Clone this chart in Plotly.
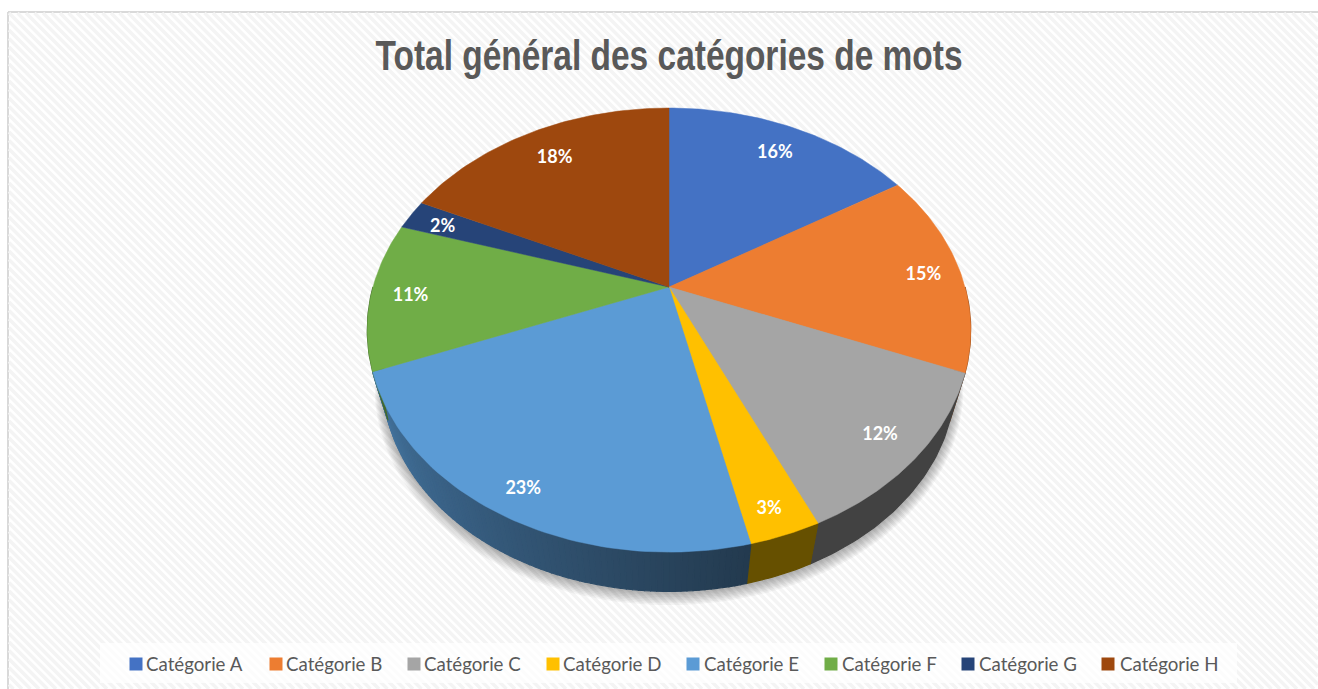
"""Total général des catégories de mots - pie with a perspective tilt and a side wall."""

import numpy as np
import plotly.graph_objects as go

categories = ["Catégorie A", "Catégorie B", "Catégorie C", "Catégorie D",
              "Catégorie E", "Catégorie F", "Catégorie G", "Catégorie H"]
values = [16.2, 14.9, 12.1, 3.2, 22.6, 10.8, 2.2, 18.0]
colors = ["#4472C4", "#ED7D31", "#A5A5A5", "#FFC000",
          "#5B9BD5", "#70AD47", "#264478", "#9E480E"]
# wall colours: (right end, left end) of each slice's side
wall_colors = [("#29457a", "#29457a"), ("#8e4b1d", "#8e4b1d"), ("#424242", "#424242"), ("#665000", "#665000"),
               ("#233a4f", "#44749f"), ("#43682b", "#43682b"), ("#172948", "#172948"), ("#5f2b08", "#5f2b08")]
legend_x = [136, 276, 414, 553, 693, 831, 968, 1108]
legend_text_x = [146, 286, 424, 563, 704, 842, 979, 1120]
# label nudges away from the computed slice position
label_dx = [-4, 0, -1, 1, -4, 2, 1, 7]
label_dy = [9, 4, 2, 11, 8, 2, 4, 10]

W, H = 1318, 689
CX, CY = 669, 287          # pie centre on the page
RX, RY = 296, 213.7        # projected radii
TILT = 0.194               # perspective strength
BOTTOM_SCALE = 0.948       # lower rim is further from the viewer
BOTTOM_DROP = 53
LABEL_R = 0.875
TITLE_WIDTH = 587          # the title is a horizontally squeezed bold sans


def project(angle_deg, r=1.0, bottom=False):
    """Clockwise angle from 12 o'clock on the disc -> page x, y."""
    a = np.radians(angle_deg)
    px, py = r * np.sin(a), r * np.cos(a)
    w = 1 + TILT * py
    dx, dy = RX * px / w, -RY * py / w
    if bottom:
        return CX + BOTTOM_SCALE * dx, CY + BOTTOM_SCALE * dy + BOTTOM_DROP
    return CX + dx, CY + dy


def mix(c1, c2, t):
    a = [int(c1[i:i + 2], 16) for i in (1, 3, 5)]
    b = [int(c2[i:i + 2], 16) for i in (1, 3, 5)]
    return "rgb(%d,%d,%d)" % tuple(round(p + (q - p) * t) for p, q in zip(a, b))


def stripes(x0, y0, x1, y1, period=8.5):
    """Diagonal background hatching clipped to the panel, as one None-separated line."""
    xs, ys = [], []
    for c in np.arange(y0 - x1, y1 - x0, period):
        ax = max(x0, y0 - c)
        bx = min(x1, y1 - c)
        xs += [ax, bx, None]
        ys += [ax + c, bx + c, None]
    return xs, ys


fig = go.Figure()

# panel background
sx, sy = stripes(9, 13, W, H)
fig.add_trace(go.Scatter(x=sx, y=sy, mode="lines", line=dict(color="#f4f4f4", width=3.4),
                         hoverinfo="skip", showlegend=False))
fig.add_trace(go.Scatter(x=[100, 1237, 1237, 100, 100], y=[643, 643, 683, 683, 643], mode="lines",
                         fill="toself", fillcolor="rgba(255,255,255,0.75)", line=dict(width=0),
                         hoverinfo="skip", showlegend=False))

# soft shadow under the disc
rim = np.linspace(0, 360, 181)
for i in range(8, 0, -1):
    pts = [project(a, 1 + i * 0.0035, bottom=True) for a in rim]
    fig.add_trace(go.Scatter(x=[p[0] for p in pts], y=[p[1] + 1 + i * 0.5 for p in pts], mode="lines",
                             fill="toself", fillcolor="rgba(0,0,0,0.04)", line=dict(width=0),
                             hoverinfo="skip", showlegend=False))

edges = np.concatenate([[0], np.cumsum(values)]) / sum(values) * 360

# side walls, front half only
for i in range(len(values)):
    start, end = max(edges[i], 90), min(edges[i + 1], 270)
    if end <= start:
        continue
    # plain walls in one piece, the shaded one in thin strips
    step = 1.0 if wall_colors[i][0] != wall_colors[i][1] else 360.0
    steps = np.arange(start, end, step).tolist() + [end]
    for a0, a1 in zip(steps[:-1], steps[1:]):
        t = ((a0 + a1) / 2 - start) / (end - start)
        col = mix(wall_colors[i][0], wall_colors[i][1], t)
        arc = np.linspace(a0, a1, max(2, int(a1 - a0) + 2))
        top = [project(a) for a in arc]
        low = [project(a, bottom=True) for a in arc[::-1]]
        quad = top + low + top[:1]
        fig.add_trace(go.Scatter(x=[p[0] for p in quad], y=[p[1] for p in quad], mode="lines",
                                 fill="toself", fillcolor=col, line=dict(color=col, width=1.2),
                                 hoverinfo="skip", showlegend=False))

# top faces
for i, name in enumerate(categories):
    arc = np.linspace(edges[i], edges[i + 1], 60)
    pts = [(CX, CY)] + [project(a) for a in arc] + [(CX, CY)]
    fig.add_trace(go.Scatter(x=[p[0] for p in pts], y=[p[1] for p in pts], mode="lines", name=name,
                             fill="toself", fillcolor=colors[i], line=dict(color=colors[i], width=0.5),
                             hoverinfo="name", showlegend=False))

# percentage labels
mids = (edges[:-1] + edges[1:]) / 2
label_pts = [project(a, LABEL_R) for a in mids]
fig.add_trace(go.Scatter(x=[p[0] + d for p, d in zip(label_pts, label_dx)],
                         y=[p[1] + d for p, d in zip(label_pts, label_dy)], mode="text",
                         text=[f"{round(v / sum(values) * 100)}%" for v in values],
                         textfont=dict(family="Lato", size=18, color="white", weight="bold"),
                         hoverinfo="skip", showlegend=False))

# legend row
fig.add_trace(go.Scatter(x=legend_x, y=[664] * len(legend_x), mode="markers",
                         marker=dict(symbol="square", size=13, color=colors),
                         hoverinfo="skip", showlegend=False))
fig.add_trace(go.Scatter(x=legend_text_x, y=[666] * len(legend_text_x), mode="text", text=categories,
                         textposition="middle right",
                         textfont=dict(family="Lato", size=18.7, color="#595959"),
                         hoverinfo="skip", showlegend=False))

fig.update_layout(
    width=W,
    height=H,
    margin=dict(l=0, r=0, t=0, b=0),
    paper_bgcolor="white",
    plot_bgcolor="rgba(0,0,0,0)",
    showlegend=False,
    title=dict(text="Total général des catégories de mots", x=669 / W, xanchor="center",
               y=1 - 55 / H, yanchor="middle",
               font=dict(family="Liberation Sans", size=42, color="#595959", weight="bold")),
    xaxis=dict(range=[0, W], visible=False, fixedrange=True),
    yaxis=dict(range=[H, 0], visible=False, fixedrange=True),
    shapes=[
        dict(type="line", x0=8, x1=W, y0=12, y1=12, line=dict(color="#d9d9d9", width=2), layer="below"),
        dict(type="line", x0=8, x1=8, y0=12, y1=H, line=dict(color="#d9d9d9", width=2), layer="below"),
    ],
)

post_js = (
    "document.body.style.margin='0';document.body.style.overflow='hidden';"
    "var t=document.querySelector('.gtitle');"
    f"t.setAttribute('textLength','{TITLE_WIDTH}');t.setAttribute('lengthAdjust','spacingAndGlyphs');"
)
fig.write_html("out.html", config=dict(displayModeBar=False), post_script=post_js)
